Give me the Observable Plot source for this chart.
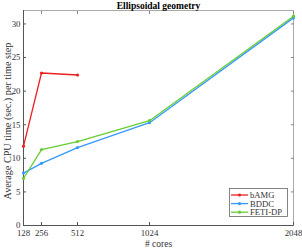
<!DOCTYPE html>
<html><head><meta charset="utf-8">
<script src="https://cdn.jsdelivr.net/npm/d3@7"></script>
<script src="https://cdn.jsdelivr.net/npm/@observablehq/plot@0.6"></script>
<style>body{margin:0;background:#fff}</style>
</head><body><div id="chart"></div>
<script>
const cores = [128, 256, 512, 1024, 2048];
const bAMG = [11.8, 22.7, 22.4];
const BDDC = [7.8, 9.25, 11.6, 15.3, 30.9];
const FETIDP = [7.0, 11.3, 12.5, 15.6, 31.15];
const yTicks = [0, 5, 10, 15, 20, 25, 30];
const seriesNames = ["bAMG", "BDDC", "FETI-DP"];
const seriesColors = ["#f01e1e", "#3399ff", "#66cc33"];
const titleText = "Ellipsoidal geometry";
const xLabel = "# cores";
const yLabel = "Average CPU time (sec.) per time step";

const seriesValues = [bAMG, BDDC, FETIDP];
const data = [];
seriesNames.forEach((name, i) => {
  seriesValues[i].forEach((v, j) => data.push({method: name, cores: cores[j], time: v}));
});

const W = 302, H = 248;
const mL = 23, mR = 9, mT = 10, mB = 23;
const font = "'Liberation Serif', 'Times New Roman', serif";

const plot = Plot.plot({
  width: W, height: H,
  marginLeft: mL, marginRight: mR, marginTop: mT, marginBottom: mB,
  style: {fontFamily: font, fontSize: "8.8px", background: "#fff", color: "#333"},
  x: {type: "linear", domain: [128, 2048]},
  y: {domain: [0, 32]},
  color: {domain: seriesNames, range: seriesColors},
  marks: [
    Plot.frame({stroke: "#aaa", strokeWidth: 1}),
    Plot.axisX({ticks: cores, tickSize: -3, tickPadding: 7, label: null, tickFormat: d => String(d), stroke: "#555"}),
    Plot.axisX({anchor: "top", ticks: cores, tickSize: -3, label: null, tickFormat: () => "", stroke: "#888"}),
    Plot.axisY({ticks: yTicks, tickSize: -3, tickPadding: 6, label: null, stroke: "#555"}),
    Plot.axisY({anchor: "right", ticks: yTicks, tickSize: -3, label: null, tickFormat: () => "", stroke: "#888"}),
    Plot.ruleX([128], {stroke: "#555"}),
    Plot.ruleY([0], {stroke: "#555"}),
    Plot.line(data, {x: "cores", y: "time", z: "method", stroke: "method", strokeWidth: 1.3}),
    Plot.dot(data, {x: "cores", y: "time", fill: "method", r: 1.6}),
    Plot.text([titleText], {frameAnchor: "top", lineAnchor: "middle", dy: -5, fontWeight: "bold", fontSize: 9.5, fill: "#000"}),
    Plot.text([xLabel], {frameAnchor: "bottom", lineAnchor: "middle", dy: 18, fontSize: 9.5, fill: "#333"}),
    Plot.text([yLabel], {frameAnchor: "left", textAnchor: "middle", lineAnchor: "middle", dx: -16, dy: 3, rotate: -90, fontSize: 10.2, fill: "#333"})
  ]
});
document.getElementById("chart").appendChild(plot);

// legend
const svg = d3.select(plot);
const lx = 229, ly = 188, lw = 58, lh = 28;
const g = svg.append("g");
g.append("rect").attr("x", lx + 0.5).attr("y", ly + 0.5).attr("width", lw).attr("height", lh)
  .attr("fill", "#fff").attr("stroke", "#666").attr("stroke-width", 0.8);
seriesNames.forEach((name, i) => {
  const yy = ly + 7 + i * 8.6;
  g.append("line").attr("x1", lx + 2).attr("x2", lx + 19).attr("y1", yy).attr("y2", yy)
    .attr("stroke", seriesColors[i]).attr("stroke-width", 1.3);
  g.append("circle").attr("cx", lx + 10.5).attr("cy", yy).attr("r", 1.6).attr("fill", seriesColors[i]);
  g.append("text").attr("x", lx + 21).attr("y", yy).attr("dy", "0.35em").attr("text-anchor", "start")
    .attr("font-family", font).attr("font-size", 8.6).attr("fill", "#333").text(name);
});
</script>
</body></html>
